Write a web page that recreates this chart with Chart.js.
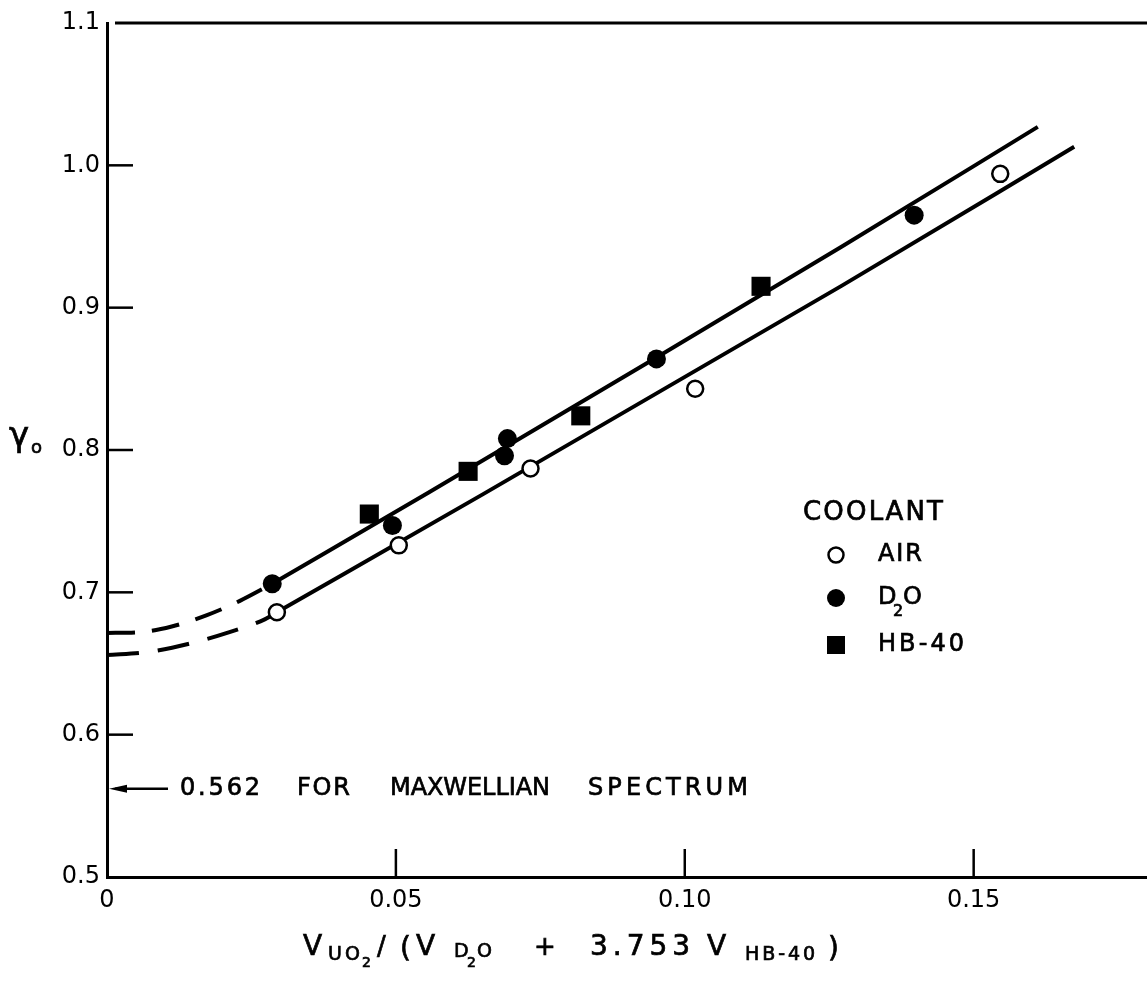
<!DOCTYPE html>
<html><head><meta charset="utf-8">
<script src="https://cdn.jsdelivr.net/npm/chart.js@4.4.1/dist/chart.umd.min.js"></script>
<style>html,body{margin:0;padding:0;background:#fff;}canvas{display:block;}</style>
</head><body>
<canvas id="c" width="1147" height="981"></canvas>
<script>
// ---- data ----
const airX = [0.0294, 0.0505, 0.0733, 0.1018, 0.1546];
const airY = [0.686, 0.733, 0.787, 0.843, 0.994];
const d2oX = [0.0286, 0.0494, 0.0688, 0.0693, 0.0951, 0.1397];
const d2oY = [0.706, 0.747, 0.796, 0.808, 0.864, 0.965];
const hbX  = [0.0454, 0.0625, 0.0820, 0.1132];
const hbY  = [0.755, 0.785, 0.824, 0.915];

const upperDashX  = [0, 0.0057, 0.0112, 0.0173, 0.023, 0.0286];
const upperDashY  = [0.6715, 0.672, 0.676, 0.684, 0.694, 0.706];
const upperSolidX = [0.0286, 0.0556, 0.0951, 0.1272, 0.1611];
const upperSolidY = [0.706, 0.770, 0.865, 0.943, 1.027];
const lowerDashX  = [0, 0.0069, 0.0143, 0.0212, 0.0273, 0.0294];
const lowerDashY  = [0.656, 0.658, 0.664, 0.672, 0.681, 0.686];
const lowerSolidX = [0.0294, 0.0651, 0.1272, 0.1674];
const lowerSolidY = [0.686, 0.769, 0.9155, 1.013];

const xTicks = [0, 0.05, 0.10, 0.15];
const xTickLabels = ['0', '0.05', '0.10', '0.15'];
const yTicks = [0.5, 0.6, 0.7, 0.8, 0.9, 1.0, 1.1];
const yTickLabels = ['0.5', '0.6', '0.7', '0.8', '0.9', '1.0', '1.1'];
const xRange = [0, 0.18];
const yRange = [0.5, 1.1];
const maxwellValue = 0.562;
const maxwellWords = ['0.562', 'FOR', 'MAXWELLIAN', 'SPECTRUM'];
const legendTitle = 'COOLANT';
const seriesNames = ['AIR', 'D2O', 'HB-40'];

function pts(xs, ys) { return xs.map((x, i) => ({x, y: ys[i]})); }
const FONT = '"DejaVu Sans", sans-serif';

function drawFit(ctx, text, x, y, size, target, align) {
  ctx.font = size + 'px ' + FONT;
  const chars = [...text];
  const widths = chars.map(c => ctx.measureText(c).width);
  const natural = widths.reduce((a, b) => a + b, 0);
  const sp = (target && chars.length > 1) ? (target - natural) / (chars.length - 1) : 0;
  let cx = x;
  ctx.textAlign = 'left';
  ctx.textBaseline = align || 'middle';
  ctx.lineWidth = 0.7;
  chars.forEach((c, i) => { ctx.fillText(c, cx, y); ctx.strokeText(c, cx, y); cx += widths[i] + sp; });
}

const overlay = {
  id: 'overlay',
  afterDraw(chart) {
    const ctx = chart.ctx, a = chart.chartArea;
    const xs = chart.scales.x, ys = chart.scales.y;
    ctx.save();
    ctx.strokeStyle = '#000'; ctx.fillStyle = '#000'; ctx.lineCap = 'butt';
    // top frame line
    ctx.lineWidth = 3;
    ctx.beginPath(); ctx.moveTo(a.left + 8, a.top); ctx.lineTo(a.right, a.top); ctx.stroke();
    // inward ticks
    ctx.lineWidth = 2.5;
    yTicks.slice(1, -1).forEach(v => {
      const p = ys.getPixelForValue(v);
      ctx.beginPath(); ctx.moveTo(a.left, p); ctx.lineTo(a.left + 26, p); ctx.stroke();
    });
    xTicks.slice(1).forEach(v => {
      const p = xs.getPixelForValue(v);
      ctx.beginPath(); ctx.moveTo(p, a.bottom); ctx.lineTo(p, a.bottom - 28); ctx.stroke();
    });
    // Maxwellian arrow
    const my = ys.getPixelForValue(maxwellValue);
    const x0 = xs.getPixelForValue(0);
    ctx.lineWidth = 2.5;
    ctx.beginPath(); ctx.moveTo(x0 + 8, my); ctx.lineTo(x0 + 61, my); ctx.stroke();
    ctx.beginPath(); ctx.moveTo(x0 + 2, my); ctx.lineTo(x0 + 20, my - 4); ctx.lineTo(x0 + 20, my + 4); ctx.closePath(); ctx.fill();
    const wordPos = [[180, 80], [297, 53], [390, 160], [588, 160]];
    maxwellWords.forEach((w, i) => drawFit(ctx, w, wordPos[i][0], my, 24, wordPos[i][1]));
    // legend
    drawFit(ctx, legendTitle, 803, 513, 26, 140);
    const lx = 836, rows = [555, 598, 645];
    ctx.lineWidth = 2.5;
    ctx.beginPath(); ctx.arc(lx, rows[0], 7.5, 0, Math.PI * 2); ctx.fillStyle = '#fff'; ctx.fill(); ctx.stroke();
    ctx.fillStyle = '#000';
    ctx.beginPath(); ctx.arc(lx, rows[1], 9, 0, Math.PI * 2); ctx.fill();
    ctx.fillRect(lx - 9, rows[2] - 9, 18, 18);
    drawFit(ctx, seriesNames[0], 878, rows[0], 24, 44);
    drawFit(ctx, 'D', 878, rows[1], 24, 0);
    drawFit(ctx, '2', 893, rows[1] + 14, 16, 0);
    drawFit(ctx, 'O', 903, rows[1], 24, 0);
    drawFit(ctx, seriesNames[2], 878, rows[2], 24, 86);
    // y title
    drawFit(ctx, 'γ', 9, 437, 34, 0);
    drawFit(ctx, 'o', 31, 448, 18, 0);
    // x title
    const B = 'alphabetic';
    drawFit(ctx, 'V', 303, 955, 28, 0, B);
    drawFit(ctx, 'UO', 328, 960, 19, 32, B);
    drawFit(ctx, '2', 362, 967, 14, 0, B);
    drawFit(ctx, '/', 377, 955, 26, 0, B);
    drawFit(ctx, '(', 400, 957, 28, 0, B);
    drawFit(ctx, 'V', 416, 955, 28, 0, B);
    drawFit(ctx, 'D', 454, 957, 19, 0, B);
    drawFit(ctx, '2', 467, 967, 14, 0, B);
    drawFit(ctx, 'O', 477, 957, 19, 0, B);
    drawFit(ctx, '+', 534, 955, 26, 0, B);
    drawFit(ctx, '3.753', 590, 955, 28, 100, B);
    drawFit(ctx, 'V', 707, 955, 28, 0, B);
    drawFit(ctx, 'HB-40', 745, 960, 19, 70, B);
    drawFit(ctx, ')', 828, 957, 28, 0, B);
    ctx.restore();
  }
};

const lineBase = {showLine: true, pointRadius: 0, borderColor: '#000', borderWidth: 4, fill: false, order: 2};
const noPad = s => { s.paddingLeft = 0; s.paddingRight = 0; s.paddingTop = 0; s.paddingBottom = 0; };
new Chart(document.getElementById('c'), {
  type: 'scatter',
  data: {
    datasets: [
      Object.assign({}, lineBase, {label: 'fit upper dashed', data: pts(upperDashX, upperDashY), borderDash: [28, 17], tension: 0.4, cubicInterpolationMode: 'monotone'}),
      Object.assign({}, lineBase, {label: 'fit upper', data: pts(upperSolidX, upperSolidY), tension: 0.3, cubicInterpolationMode: 'monotone'}),
      Object.assign({}, lineBase, {label: 'fit lower dashed', data: pts(lowerDashX, lowerDashY), borderDash: [32, 19], tension: 0.4, cubicInterpolationMode: 'monotone'}),
      Object.assign({}, lineBase, {label: 'fit lower', data: pts(lowerSolidX, lowerSolidY), tension: 0.3, cubicInterpolationMode: 'monotone'}),
      {label: seriesNames[0], data: pts(airX, airY), pointStyle: 'circle', pointRadius: 8, pointBackgroundColor: '#fff', pointBorderColor: '#000', pointBorderWidth: 2.5, order: 0},
      {label: seriesNames[1], data: pts(d2oX, d2oY), pointStyle: 'circle', pointRadius: 9.5, pointBackgroundColor: '#000', pointBorderColor: '#000', pointBorderWidth: 0, order: 0},
      {label: seriesNames[2], data: pts(hbX, hbY), pointStyle: 'rect', pointRadius: 13.5, pointBackgroundColor: '#000', pointBorderColor: '#000', pointBorderWidth: 0, order: 0}
    ]
  },
  options: {
    responsive: false, animation: false,
    layout: {autoPadding: false, padding: {top: 23, right: 0, left: 0, bottom: 0}},
    plugins: {legend: {display: false}, tooltip: {enabled: false}},
    scales: {
      x: {
        type: 'linear', min: xRange[0], max: xRange[1],
        grid: {display: false, drawTicks: false},
        border: {display: true, color: '#000', width: 3},
        afterBuildTicks: s => { s.ticks = xTicks.map(v => ({value: v})); },
        afterFit: s => { s.height = 104; noPad(s); },
        ticks: {color: '#000', padding: 9, font: {family: FONT, size: 24}, maxRotation: 0,
          callback: v => { const i = xTicks.findIndex(t => Math.abs(t - v) < 1e-9); return i >= 0 ? xTickLabels[i] : ''; }}
      },
      y: {
        type: 'linear', min: yRange[0], max: yRange[1],
        grid: {display: false, drawTicks: false},
        border: {display: true, color: '#000', width: 3},
        afterBuildTicks: s => { s.ticks = yTicks.map(v => ({value: v})); },
        afterFit: s => { s.width = 107; noPad(s); },
        ticks: {color: '#000', padding: 7, font: {family: FONT, size: 24},
          callback: v => { const i = yTicks.findIndex(t => Math.abs(t - v) < 1e-9); return i >= 0 ? yTickLabels[i] : ''; }}
      }
    }
  },
  plugins: [overlay]
});
</script>
</body></html>
